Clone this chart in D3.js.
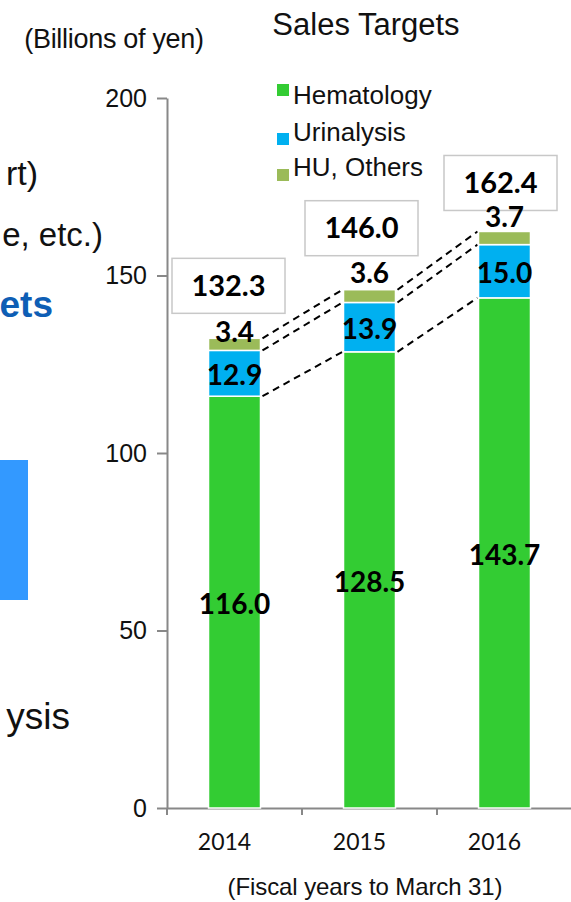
<!DOCTYPE html>
<html>
<head>
<meta charset="utf-8">
<script src="https://cdn.jsdelivr.net/npm/d3@7/dist/d3.min.js"></script>
<style>
  html, body { margin: 0; padding: 0; background: #fff; }
  svg { display: block; }
</style>
</head>
<body>
<svg id="chart" width="571" height="902"></svg>
<script>
// ---- data ----
const years = ["2014", "2015", "2016"];
const seriesNames = ["Hematology", "Urinalysis", "HU, Others"];
const hematology = [116.0, 128.5, 143.7];
const urinalysis = [12.9, 13.9, 15.0];
const huOthers = [3.4, 3.6, 3.7];
const totals = [132.3, 146.0, 162.4];
const yTicks = [0, 50, 100, 150, 200];

// ---- layout / style ----
const W = 571, H = 902;
const colors = ["#33CC33", "#00B0F0", "#9BBB59"];
const ARIAL = "'Liberation Sans', Arial, sans-serif";
const CALIBRI = "Lato, 'Open Sans', sans-serif";
const boxDx = [-6, -8, -4];       // total box horizontal nudge from bar centre
const boxGap = [25, 34, 21];      // gap between bar top and total box bottom
const topLabelDy = [4, -7, -4];   // baseline of the small top-segment label vs bar top
const legendSquareDy = [-20, -8, -7];

const svg = d3.select("#chart");

const y = d3.scaleLinear().domain([0, 200]).range([808, 98]);
const x = d3.scaleBand().domain(years).range([167, 572])
  .paddingInner(0.615).paddingOuter(0.3075);
const bw = x.bandwidth();

const rows = years.map((yr, i) => ({
  year: yr, "Hematology": hematology[i], "Urinalysis": urinalysis[i], "HU, Others": huOthers[i]
}));
const stacked = d3.stack().keys(seriesNames)(rows);

// ---- slide text continuing in from the left edge ----
const left = svg.append("g").attr("font-family", ARIAL);
left.append("text").attr("x", 38).attr("y", 185).attr("text-anchor", "end")
  .attr("font-size", 34).attr("fill", "#111").text("rt)");
left.append("text").attr("x", 103).attr("y", 246).attr("text-anchor", "end")
  .attr("font-size", 33).attr("fill", "#111").text("e, etc.)");
left.append("text").attr("x", 53).attr("y", 317).attr("text-anchor", "end")
  .attr("font-size", 37).attr("font-weight", "bold").attr("fill", "#0E5EB5").text("ets");
left.append("rect").attr("x", 0).attr("y", 460).attr("width", 28).attr("height", 140)
  .attr("fill", "#3399FF");
left.append("text").attr("x", 70).attr("y", 729).attr("text-anchor", "end")
  .attr("font-size", 37).attr("fill", "#111").text("ysis");

// ---- titles ----
svg.append("text").attr("x", 366).attr("y", 35).attr("text-anchor", "middle")
  .attr("font-family", ARIAL).attr("font-size", 31).attr("fill", "#111").text("Sales Targets");
svg.append("text").attr("x", 114).attr("y", 48).attr("text-anchor", "middle")
  .attr("font-family", ARIAL).attr("font-size", 27).attr("fill", "#111")
  .attr("letter-spacing", -0.3).text("(Billions of yen)");
svg.append("text").attr("x", 365).attr("y", 895).attr("text-anchor", "middle")
  .attr("font-family", ARIAL).attr("font-size", 24).attr("fill", "#111")
  .attr("letter-spacing", -0.1).text("(Fiscal years to March 31)");

// ---- y axis ----
const yAxis = svg.append("g").attr("transform", `translate(${x.range()[0]},0)`)
  .call(d3.axisLeft(y).tickValues(yTicks).tickSize(10).tickSizeOuter(0).tickPadding(10));
yAxis.select(".domain").attr("stroke", "#888").attr("stroke-width", 2);
yAxis.selectAll(".tick line").attr("stroke", "#888").attr("stroke-width", 2);
yAxis.selectAll(".tick text").attr("font-family", ARIAL).attr("font-size", 25).attr("fill", "#111");

// ---- x axis ----
const xAxis = svg.append("g").attr("transform", `translate(0,${y(0)})`)
  .call(d3.axisBottom(x).tickSize(0).tickSizeOuter(0).tickPadding(26));
xAxis.select(".domain").attr("stroke", "#888").attr("stroke-width", 2);
xAxis.selectAll(".tick text").attr("font-family", CALIBRI).attr("font-size", 23)
  .attr("fill", "#111").attr("dx", -10);
const boundaries = years.map(d => x(d) - x.step() * x.paddingOuter())
  .concat([x(years[years.length - 1]) + bw + x.step() * x.paddingOuter()]);
xAxis.selectAll(".bound").data(boundaries).join("line").attr("class", "bound")
  .attr("x1", d => d).attr("x2", d => d).attr("y1", 0).attr("y2", 7)
  .attr("stroke", "#888").attr("stroke-width", 2);

// ---- total boxes ----
const boxW = 113, boxH = 55;
totals.forEach((t, i) => {
  const cx = x(years[i]) + bw / 2 + boxDx[i];
  const bottom = y(t) - boxGap[i];
  svg.append("rect").attr("x", cx - boxW / 2).attr("y", bottom - boxH)
    .attr("width", boxW).attr("height", boxH)
    .attr("fill", "#fff").attr("stroke", "#c8c8c8").attr("stroke-width", 1.5);
  svg.append("text").attr("x", cx).attr("y", bottom - boxH / 2 + 10)
    .attr("text-anchor", "middle").attr("font-family", CALIBRI).attr("font-weight", "bold")
    .attr("font-size", 29).attr("fill", "#000").text(t.toFixed(1));
});

// ---- dashed connectors between bars ----
const conn = svg.append("g").attr("stroke", "#000").attr("stroke-width", 2)
  .attr("stroke-dasharray", "7,5").attr("fill", "none");
for (let i = 0; i < years.length - 1; i++) {
  stacked.forEach(layer => {
    conn.append("line")
      .attr("x1", x(years[i]) + bw + 2).attr("y1", y(layer[i][1]))
      .attr("x2", x(years[i + 1]) - 1).attr("y2", y(layer[i + 1][1]));
  });
}

// ---- stacked bars ----
svg.append("g").selectAll("g").data(stacked).join("g")
  .attr("fill", (d, k) => colors[k])
  .selectAll("rect").data(d => d).join("rect")
  .attr("x", d => x(d.data.year))
  .attr("y", d => y(d[1]))
  .attr("width", bw)
  .attr("height", d => y(d[0]) - y(d[1]))
  .attr("stroke", "#fff").attr("stroke-width", 1.5);

// ---- segment labels ----
const lab = svg.append("g").attr("font-family", CALIBRI).attr("font-weight", "bold")
  .attr("font-size", 28).attr("fill", "#000").attr("text-anchor", "middle");
stacked[0].forEach((d, i) => {
  lab.append("text").attr("x", x(years[i]) + bw / 2).attr("y", (y(d[0]) + y(d[1])) / 2 + 12)
    .text(hematology[i].toFixed(1));
});
stacked[1].forEach((d, i) => {
  lab.append("text").attr("x", x(years[i]) + bw / 2).attr("y", (y(d[0]) + y(d[1])) / 2 + 12)
    .text(urinalysis[i].toFixed(1));
});
stacked[2].forEach((d, i) => {
  lab.append("text").attr("x", x(years[i]) + bw / 2).attr("y", y(d[1]) + topLabelDy[i])
    .text(huOthers[i].toFixed(1));
});

// ---- legend ----
const legend = svg.append("g").attr("font-family", ARIAL).attr("font-size", 26).attr("fill", "#111");
const legendBase = [104, 141, 176];
seriesNames.forEach((name, k) => {
  legend.append("rect").attr("x", 277).attr("y", legendBase[k] + legendSquareDy[k])
    .attr("width", 12).attr("height", 12).attr("fill", colors[k]);
  legend.append("text").attr("x", 293).attr("y", legendBase[k]).text(name);
});
</script>
</body>
</html>
